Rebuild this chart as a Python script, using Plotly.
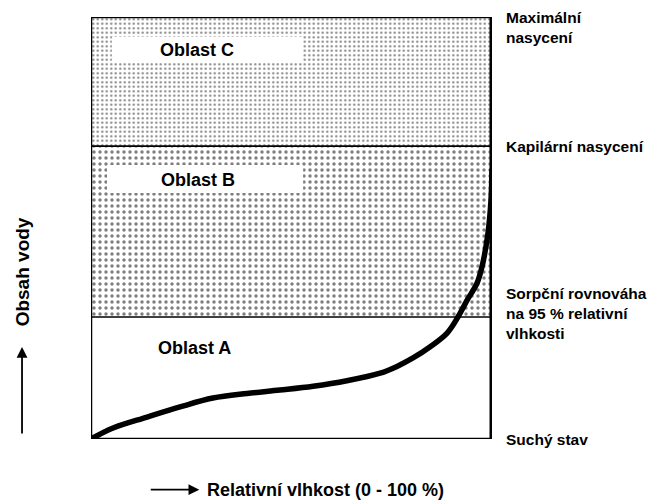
import plotly.graph_objects as go

# ---- data ----
zone_names = ["Oblast A", "Oblast B", "Oblast C"]
zone_bounds = [0, 28.9, 69.4, 100]          # water content boundaries (0-100)
level_labels = ["Suchý stav",
                "Sorpční rovnováha<br>na 95 % relativní<br>vlhkosti",
                "Kapilární nasycení",
                "Maximální<br>nasycení"]
rh = [0, 5.5, 14, 22.2, 30.4, 38.9, 47.1, 55.4, 63.8, 72.1, 76.3, 80.3,
      84.5, 88.8, 91.5, 93.8, 96.3, 97.5, 99.0, 99.75, 100]
water = [0, 2.6, 5.2, 7.6, 9.7, 10.8, 11.6, 12.5, 13.8, 15.6, 17.2, 19.2,
         21.8, 25.1, 28.9, 32.9, 37.0, 40.8, 48.8, 56.6, 64]
x_title = "Relativní vlhkost (0 - 100 %)"
y_title = "Obsah vody"

FONT = "Liberation Sans, Arial, sans-serif"

fig = go.Figure()

# zone B (coarse dots)
fig.add_trace(go.Scatter(
    x=[0, 100, 100, 0, 0], y=[zone_bounds[1], zone_bounds[1], zone_bounds[2], zone_bounds[2], zone_bounds[1]],
    mode="lines", line=dict(width=0), fill="toself", fillcolor="white",
    fillpattern=dict(shape=".", size=6, solidity=0.26, fgcolor="black", bgcolor="white"),
    hoverinfo="skip", showlegend=False))
# zone C (fine dots)
fig.add_trace(go.Scatter(
    x=[0, 100, 100, 0, 0], y=[zone_bounds[2], zone_bounds[2], zone_bounds[3], zone_bounds[3], zone_bounds[2]],
    mode="lines", line=dict(width=0), fill="toself", fillcolor="white",
    fillpattern=dict(shape=".", size=4.5, solidity=0.2, fgcolor="black", bgcolor="white"),
    hoverinfo="skip", showlegend=False))

# sorption curve
fig.add_trace(go.Scatter(x=rh, y=water, mode="lines",
                         line=dict(color="black", width=5.5, shape="spline", smoothing=1.0),
                         hoverinfo="skip", showlegend=False))

shapes = []
# zone boundary lines
for b in zone_bounds[1:3]:
    shapes.append(dict(type="line", xref="x", yref="y", x0=0, x1=100, y0=b, y1=b,
                       line=dict(color="black", width=1.6), layer="above"))
# white label boxes
shapes.append(dict(type="rect", xref="x", yref="y", x0=5.2, x1=52.9, y0=89.1, y1=95.3,
                   fillcolor="white", line=dict(width=0), layer="above"))
shapes.append(dict(type="rect", xref="x", yref="y", x0=4.0, x1=52.9, y0=58.3, y1=64.9,
                   fillcolor="white", line=dict(width=0), layer="above"))
# frame
shapes.append(dict(type="rect", xref="x", yref="y", x0=0, x1=100, y0=0, y1=100,
                   line=dict(color="black", width=2.5), layer="above"))
shapes.append(dict(type="line", xref="x", yref="y", x0=100, x1=100, y0=0, y1=100,
                   line=dict(color="black", width=5), layer="above"))

ann = []
lab_font = dict(family=FONT, size=18, color="black", weight="bold")
for name, (x, y) in zip(zone_names, [(25.9, 21.6), (26.6, 61.4), (26.4, 92.2)]):
    ann.append(dict(x=x, y=y, xref="x", yref="y", text=name, showarrow=False,
                    font=lab_font, xanchor="center", yanchor="middle"))

side_font = dict(family=FONT, size=15.5, color="black", weight="bold")
side_y = [zone_bounds[0], zone_bounds[1], zone_bounds[2], zone_bounds[3]]
side_shift = [0, 4, 0, -10]
for t, y, s in zip(level_labels, side_y, side_shift):
    ann.append(dict(x=1.0295, y=y, xref="paper", yref="y", text=t, showarrow=False,
                    font=side_font, xanchor="left", yanchor="middle", align="left", yshift=s))

# axis titles with arrows
ann.append(dict(x=-0.172, y=0.395, xref="paper", yref="paper", text=y_title, textangle=-90,
                showarrow=False, font=dict(family=FONT, size=19, color="black", weight="bold"),
                xanchor="center", yanchor="middle"))
ann.append(dict(x=-0.172, y=0.218, xref="paper", yref="paper", text="", showarrow=True,
                ax=0, ay=88, arrowhead=2, arrowsize=1.2, arrowwidth=1.8, arrowcolor="black",
                standoff=0))
ann.append(dict(x=0.27, y=-0.12, xref="paper", yref="paper", text="", showarrow=True,
                ax=-50, ay=0, arrowhead=2, arrowsize=1.2, arrowwidth=1.8, arrowcolor="black",
                standoff=0))
ann.append(dict(x=0.285, y=-0.12, xref="paper", yref="paper", text=x_title, showarrow=False,
                font=lab_font, xanchor="left", yanchor="middle"))

fig.update_layout(
    width=650, height=503,
    margin=dict(l=91, r=158, t=17, b=64),
    paper_bgcolor="white", plot_bgcolor="white",
    xaxis=dict(range=[0, 100], visible=False, fixedrange=True),
    yaxis=dict(range=[0, 100], visible=False, fixedrange=True),
    shapes=shapes, annotations=ann, showlegend=False,
)

fig.write_html("out.html", config={"displayModeBar": False},
               post_script="document.body.style.margin='0';document.body.style.padding='0';")
